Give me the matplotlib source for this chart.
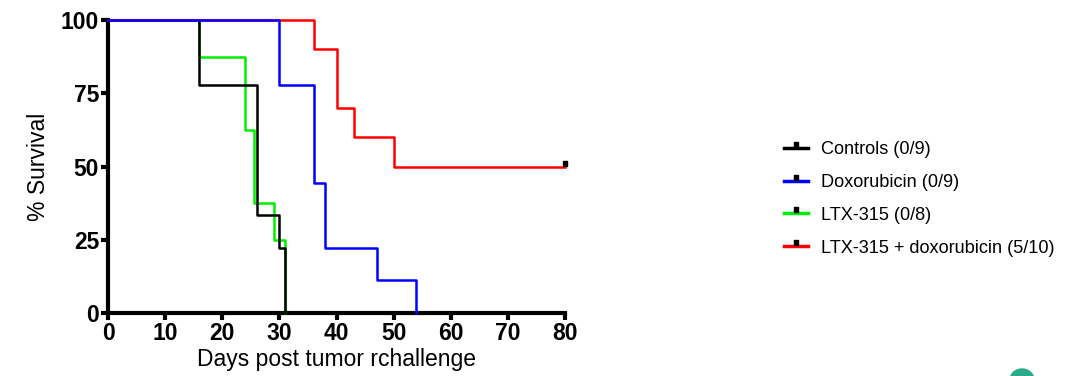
import matplotlib
matplotlib.use("Agg")
import matplotlib.pyplot as plt
from matplotlib.path import Path
from matplotlib.lines import Line2D
from matplotlib.patches import Ellipse

plt.rcParams['font.family'] = ['Liberation Sans', 'DejaVu Sans']

# Data
ctrl_t = [0, 16, 26, 30, 31]
ctrl_s = [100, 77.8, 33.3, 22.2, 0]
ltx_t = [0, 16, 24, 25.6, 29, 31]
ltx_s = [100, 87.5, 62.5, 37.5, 25, 0]
dox_t = [0, 30, 36, 38, 47, 54]
dox_s = [100, 77.8, 44.4, 22.2, 11.1, 0]
combo_t = [0, 36, 40, 43, 50, 80]
combo_s = [100, 90, 70, 60, 50, 50]
labels = ["Controls (0/9)", "Doxorubicin (0/9)", "LTX-315 (0/8)", "LTX-315 + doxorubicin (5/10)"]
colors = ["black", "#0000ff", "#00ee00", "#ff0000"]
xticks = [0, 10, 20, 30, 40, 50, 60, 70, 80]
yticks = [0, 25, 50, 75, 100]

fig = plt.figure(figsize=(10.76, 3.76), dpi=100)
ax = fig.add_axes([0.1004, 0.1676, 0.4247, 0.779])

lw = 1.8
ax.step(ltx_t, ltx_s, where='post', color=colors[2], lw=lw, clip_on=False, zorder=3)
ax.step(ctrl_t, ctrl_s, where='post', color=colors[0], lw=lw, clip_on=False, zorder=4)
ax.step(combo_t, combo_s, where='post', color=colors[3], lw=lw, clip_on=False, zorder=5)
ax.step(dox_t, dox_s, where='post', color=colors[1], lw=lw, clip_on=False, zorder=6)

# censor tick marker: small square above the line
censor = Path([(-0.35, 0.1), (0.35, 0.1), (0.35, 0.9), (-0.35, 0.9), (-0.35, 0.1)],
              [Path.MOVETO, Path.LINETO, Path.LINETO, Path.LINETO, Path.CLOSEPOLY])
ax.plot([combo_t[-1]], [combo_s[-1]], marker=censor, color='k', markersize=8,
        linestyle='none', clip_on=False, zorder=7)

ax.set_xlim(0, 80)
ax.set_ylim(0, 100)
ax.set_xticks(xticks)
ax.set_yticks(yticks)
for s in ['top', 'right']:
    ax.spines[s].set_visible(False)
for s in ['left', 'bottom']:
    ax.spines[s].set_linewidth(3)
ax.tick_params(axis='both', direction='out', width=3, length=5, labelsize=16.5, pad=1.5)
for lab in ax.get_xticklabels() + ax.get_yticklabels():
    lab.set_fontweight('bold')
ax.set_xlabel("Days post tumor rchallenge", fontsize=16.5, labelpad=2)
ax.set_ylabel("% Survival", fontsize=16.5, labelpad=8)

handles = [Line2D([], [], color=c, lw=2.5, marker=censor, markersize=9,
                  markerfacecolor='k', markeredgecolor='k') for c in colors]
fig.legend(handles, labels, loc='upper left', bbox_to_anchor=(0.722, 0.644),
           frameon=False, fontsize=13.1, handlelength=1.3, handletextpad=0.7,
           labelspacing=0.87, borderaxespad=0)

el = Ellipse((1022 / 1076, 1 - 380 / 376), 24 / 1076, 22 / 376, transform=fig.transFigure,
             color='#2aaa8a')
fig.patches.append(el)

fig.savefig("out.png", dpi=100)
